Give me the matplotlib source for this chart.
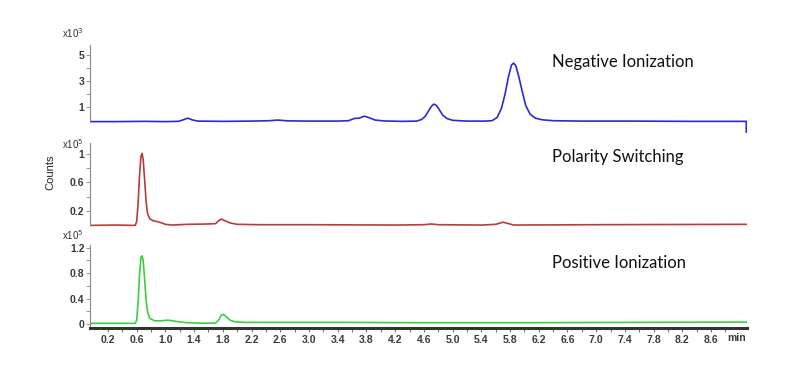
import matplotlib
matplotlib.use("Agg")
import matplotlib.pyplot as plt
from matplotlib.ticker import FixedLocator

# retention time (min) / counts
neg_time = [-0.05, 0.3, 0.7, 1.0, 1.18, 1.25, 1.31, 1.37, 1.45, 1.8, 2.2, 2.45, 2.56, 2.7,
            3.0, 3.4, 3.55, 3.63, 3.70, 3.77, 3.84, 3.92, 4.05, 4.3, 4.50, 4.57, 4.62, 4.67,
            4.71, 4.74, 4.77, 4.81, 4.86, 4.92, 5.0, 5.2, 5.45, 5.55, 5.62, 5.68, 5.73, 5.78,
            5.82, 5.85, 5.88, 5.92, 5.97, 6.02, 6.08, 6.15, 6.25, 6.4, 6.8, 7.5, 8.3, 9.09, 9.09]
neg_counts = [-0.12, -0.12, -0.1, -0.12, -0.1, 0.02, 0.15, 0.02, -0.08, -0.1, -0.08, -0.05, 0.0, -0.06,
              -0.08, -0.08, -0.05, 0.12, 0.15, 0.3, 0.18, 0.0, -0.07, -0.1, -0.08, 0.05, 0.3, 0.75,
              1.1, 1.23, 1.15, 0.85, 0.4, 0.12, -0.02, -0.08, -0.08, -0.05, 0.2, 0.9, 2.0, 3.4,
              4.25, 4.4, 4.2, 3.4, 2.2, 1.1, 0.45, 0.15, 0.02, -0.05, -0.08, -0.08, -0.1, -0.1, -0.95]

pol_time = [-0.05, 0.3, 0.58, 0.60, 0.62, 0.64, 0.66, 0.675, 0.69, 0.71, 0.73, 0.75, 0.78, 0.83,
            0.9, 0.95, 1.0, 1.1, 1.3, 1.6, 1.7, 1.74, 1.78, 1.83, 1.9, 2.0, 2.3, 3.0, 4.2, 4.6,
            4.7, 4.8, 5.4, 5.6, 5.7, 5.78, 5.85, 7.0, 9.09]
pol_counts = [-0.005, 0.0, -0.005, 0.05, 0.3, 0.7, 0.97, 1.01, 0.93, 0.65, 0.35, 0.17, 0.09, 0.06,
              0.045, 0.03, 0.01, 0.0, 0.01, 0.015, 0.02, 0.06, 0.085, 0.06, 0.03, 0.01, 0.005, 0.005, 0.0, 0.005,
              0.015, 0.005, 0.0, 0.01, 0.04, 0.02, 0.0, 0.005, 0.01]

pos_time = [-0.05, 0.58, 0.60, 0.62, 0.64, 0.66, 0.675, 0.69, 0.71, 0.73, 0.75, 0.78, 0.85, 0.95,
            1.02, 1.08, 1.15, 1.3, 1.5, 1.7, 1.74, 1.78, 1.81, 1.85, 1.9, 1.97, 2.1, 2.5, 3.5,
            4.5, 6.0, 7.5, 9.09]
pos_counts = [0.01, 0.01, 0.06, 0.35, 0.78, 1.05, 1.07, 1.0, 0.72, 0.4, 0.2, 0.09, 0.05, 0.05,
              0.06, 0.055, 0.04, 0.02, 0.012, 0.015, 0.06, 0.14, 0.15, 0.11, 0.06, 0.035, 0.025, 0.025, 0.025,
              0.02, 0.02, 0.025, 0.03]

x_labels = ["0.2", "0.6", "1.0", "1.4", "1.8", "2.2", "2.6", "3.0", "3.4", "3.8", "4.2",
            "4.6", "5.0", "5.4", "5.8", "6.2", "6.6", "7.0", "7.4", "7.8", "8.2", "8.6"]
x_label_pos = [0.2 + 0.4 * i for i in range(len(x_labels))]
x_minor_pos = [0.4 * i for i in range(1, 23)]

W, H = 796, 392
TICK_FONT = dict(family="Liberation Sans", size=7.5, weight="bold", color="#3a3a3a")


def px_axes(fig, left, top, right, bottom):
    return fig.add_axes([left / W, 1 - bottom / H, (right - left) / W, (bottom - top) / H])


def style_panel(ax, ylim, major, labels, minor, bounds):
    ax.set_xlim(-0.05, 9.10)
    ax.set_ylim(*ylim)
    for s in ["top", "right", "bottom"]:
        ax.spines[s].set_visible(False)
    ax.spines["left"].set_color("#888888")
    ax.spines["left"].set_linewidth(0.8)
    ax.spines["left"].set_bounds(*bounds)
    ax.set_yticks(major)
    ax.set_yticklabels(labels, fontdict=TICK_FONT)
    ax.yaxis.set_minor_locator(FixedLocator(minor))
    ax.tick_params(axis="y", which="both", length=3, width=0.6, color="#888888", pad=1)
    ax.set_xticks([])


fig = plt.figure(figsize=(W / 100, H / 100), dpi=100)

ax1 = px_axes(fig, 90, 45, 747, 133)
ax1.plot(neg_time, neg_counts, color="#2a2ad8", lw=1.2)
style_panel(ax1, (-1.0, 5.8), [1, 3, 5], ["1", "3", "5"], [2, 4], (-0.15, 5.8))

ax2 = px_axes(fig, 90, 143.4, 747, 228.6)
ax2.plot(pol_time, pol_counts, color="#b83c3c", lw=1.2)
style_panel(ax2, (-0.05, 1.15), [0.2, 0.6, 1.0], ["0.2", "0.6", "1"], [0.4, 0.8], (0.0, 1.15))

ax3 = px_axes(fig, 90, 245, 747, 328)
ax3.plot(pos_time, pos_counts, color="#3cd040", lw=1.2)
style_panel(ax3, (-0.063, 1.24), [0, 0.4, 0.8, 1.2], ["0", "0.4", "0.8", "1.2"], [0.2, 0.6, 1.0],
            (-0.063, 1.24))

# bottom time axis
ax3.spines["bottom"].set_visible(True)
ax3.spines["bottom"].set_color("#333333")
ax3.spines["bottom"].set_linewidth(2.2)
ax3.set_xticks(x_label_pos)
ax3.set_xticklabels(x_labels, fontdict=TICK_FONT)
ax3.xaxis.set_minor_locator(FixedLocator(x_minor_pos))
ax3.tick_params(axis="x", which="both", length=3, width=0.6, color="#555555", pad=2)
ax3.text(8.95, -0.14, "min", fontdict=TICK_FONT, ha="center", va="top")

# multiplier labels
for y, txt in [(33, "x10$^{3}$"), (144, "x10$^{5}$"), (235, "x10$^{5}$")]:
    fig.text(73 / W, 1 - y / H, txt, ha="center", va="center",
             family="Liberation Sans", size=7, color="#333333")

fig.text(50 / W, 1 - 172 / H, "Counts", rotation=90, ha="center", va="center",
         family="Liberation Sans", size=8, color="#222222")

for y, txt in [(62, "Negative Ionization"), (157, "Polarity Switching"), (263, "Positive Ionization")]:
    fig.text(552 / W, 1 - y / H, txt, ha="left", va="center", family="Lato", size=12, color="#111111")

fig.savefig("out.png", dpi=100)
